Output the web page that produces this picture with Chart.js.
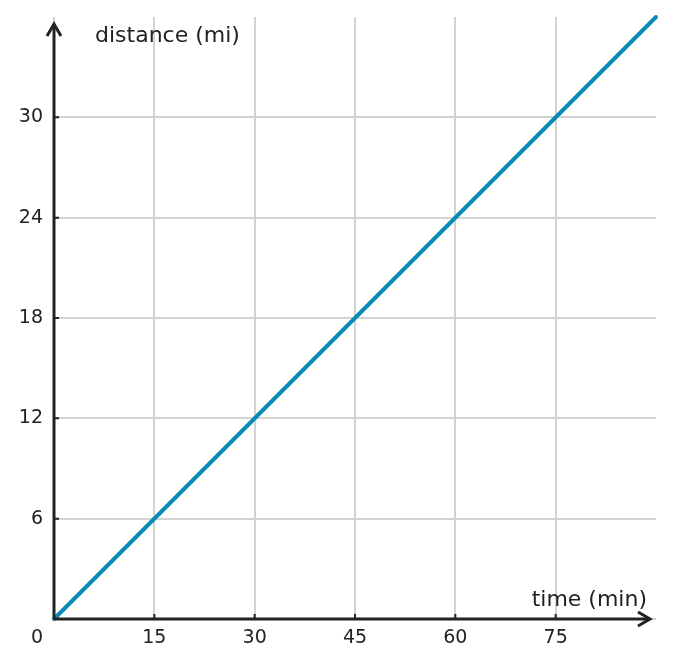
<!DOCTYPE html>
<html>
<head>
<meta charset="utf-8">
<script src="https://cdn.jsdelivr.net/npm/chart.js@4"></script>
<style>
  html, body { margin: 0; padding: 0; background: #fff; }
  #wrap { width: 674px; height: 668px; }
</style>
</head>
<body>
<div id="wrap"><canvas id="chart" width="674" height="668"></canvas></div>
<script>
// data: time (min) vs distance (mi)
const timeMin = [0, 90];
const distanceMi = [0, 36];
const xTicks = [15, 30, 45, 60, 75];
const yTicks = [6, 12, 18, 24, 30];
const xLabel = "time (min)";
const yLabel = "distance (mi)";
const originLabel = "0";

const INK = '#222222';
const GRID = '#d3d3d3';
const FONT = '"DejaVu Sans", sans-serif';

// axes with arrows, inward tick marks, axis titles and the origin "0"
const axesPlugin = {
    id: 'axesPlugin',
    afterDatasetsDraw(chart) {
        const ctx = chart.ctx;
        const x = chart.scales.x, y = chart.scales.y;
        const x0 = x.getPixelForValue(0), y0 = y.getPixelForValue(0);
        const xEnd = chart.chartArea.right - 6, yEnd = chart.chartArea.top + 7;
        ctx.save();
        ctx.strokeStyle = INK;
        ctx.lineWidth = 3;
        ctx.lineCap = 'butt';
        ctx.beginPath();
        ctx.moveTo(x0, y0);
        ctx.lineTo(xEnd - 1, y0);
        ctx.moveTo(x0, y0);
        ctx.lineTo(x0, yEnd + 1);
        ctx.stroke();
        // arrow heads
        ctx.lineWidth = 3;
        ctx.lineJoin = 'miter';
        ctx.beginPath();
        ctx.moveTo(xEnd - 12, y0 - 7);
        ctx.lineTo(xEnd, y0);
        ctx.lineTo(xEnd - 12, y0 + 7);
        ctx.moveTo(x0 - 7, yEnd + 12);
        ctx.lineTo(x0, yEnd);
        ctx.lineTo(x0 + 7, yEnd + 12);
        ctx.stroke();
        // inward ticks
        ctx.lineWidth = 2;
        ctx.beginPath();
        xTicks.forEach(v => {
            const px = x.getPixelForValue(v);
            ctx.moveTo(px, y0);
            ctx.lineTo(px, y0 - 5);
        });
        yTicks.forEach(v => {
            const py = y.getPixelForValue(v);
            ctx.moveTo(x0, py);
            ctx.lineTo(x0 + 5, py);
        });
        ctx.stroke();
        // titles
        ctx.fillStyle = INK;
        ctx.font = '22px ' + FONT;
        ctx.textBaseline = 'middle';
        ctx.textAlign = 'left';
        ctx.fillText(yLabel, x0 + 41, chart.chartArea.top + 19);
        ctx.textAlign = 'right';
        ctx.fillText(xLabel, chart.chartArea.right - 9, y0 - 19);
        ctx.font = '19px ' + FONT;
        ctx.textAlign = 'center';
        ctx.fillText(originLabel, x0 - 17, y0 + 19);
        ctx.restore();
    }
};

new Chart(document.getElementById('chart'), {
    type: 'line',
    data: {
        datasets: [{
            data: timeMin.map((t, i) => ({ x: t, y: distanceMi[i] })),
            borderColor: '#0a89b8',
            borderWidth: 4,
            borderCapStyle: 'round',
            pointRadius: 0,
            fill: false,
            clip: false
        }]
    },
    options: {
        responsive: false,
        animation: false,
        layout: { padding: { top: 17, right: 18, left: 0, bottom: 0 } },
        plugins: { legend: { display: false }, tooltip: { enabled: false } },
        scales: {
            x: {
                type: 'linear',
                min: 0, max: 90,
                afterFit(scale) {
                    scale.height = 49;
                    scale.paddingLeft = 0;
                    scale.paddingRight = 0;
                },
                afterBuildTicks(scale) {
                    scale.ticks = [0].concat(xTicks).concat([90]).map(v => ({ value: v }));
                },
                ticks: {
                    color: INK,
                    font: { family: FONT, size: 19 },
                    padding: 8,
                    maxRotation: 0,
                    autoSkip: false,
                    callback: v => xTicks.includes(v) ? String(v) : ''
                },
                grid: {
                    drawTicks: false,
                    lineWidth: 2,
                    color: c => c.tick && c.tick.value === 90 ? 'transparent' : GRID
                },
                border: { display: false }
            },
            y: {
                type: 'linear',
                min: 0, max: 36,
                afterFit(scale) {
                    scale.width = 54;
                    scale.paddingTop = 0;
                    scale.paddingBottom = 0;
                },
                afterBuildTicks(scale) {
                    scale.ticks = [0].concat(yTicks).concat([36]).map(v => ({ value: v }));
                },
                ticks: {
                    color: INK,
                    font: { family: FONT, size: 19 },
                    padding: 11,
                    autoSkip: false,
                    callback: v => yTicks.includes(v) ? String(v) : ''
                },
                grid: {
                    drawTicks: false,
                    lineWidth: 2,
                    color: c => c.tick && c.tick.value === 36 ? 'transparent' : GRID
                },
                border: { display: false }
            }
        }
    },
    plugins: [axesPlugin]
});
</script>
</body>
</html>
